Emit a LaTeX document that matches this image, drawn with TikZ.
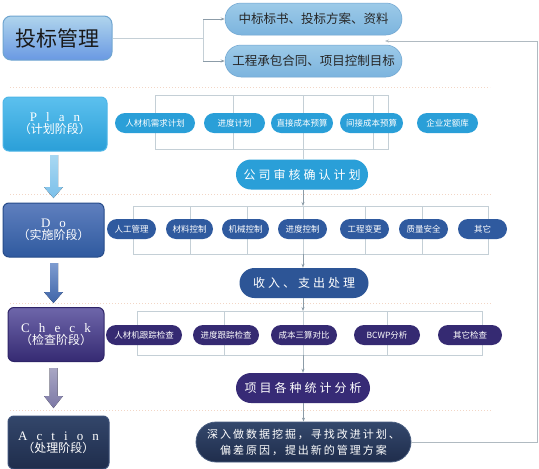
\documentclass[tikz,border=0pt]{standalone}
\usepackage{fontspec}
\setmainfont{Noto Sans CJK SC}
\newfontfamily\cjkspaced[LetterSpace=25]{Noto Sans CJK SC}
\newfontfamily\cjkspacedb[LetterSpace=18]{Noto Sans CJK SC}
\newfontfamily\latinspaced[LetterSpace=70]{Liberation Serif}
\usetikzlibrary{arrows.meta}
\definecolor{linegrey}{HTML}{C4CFD6}
\definecolor{arrgrey}{HTML}{8C9CA8}
\definecolor{sepcol}{HTML}{F2D6C6}
\definecolor{planc}{HTML}{2A9FD8}
\definecolor{doc}{HTML}{2F5A9F}
\definecolor{checkc}{HTML}{352A72}
\definecolor{actc}{HTML}{1F2D4C}
\definecolor{hdtop}{HTML}{9CCAE8}
\definecolor{hdbot}{HTML}{7CB4DE}
\definecolor{hddraw}{HTML}{6FA5D0}
\definecolor{plantop}{HTML}{5CC0EE}
\definecolor{planarrtop}{HTML}{A8D8F2}
\definecolor{planarrbot}{HTML}{7CC0EA}
\definecolor{dotop}{HTML}{5F7FBE}
\definecolor{dodraw}{HTML}{274C8A}
\definecolor{dobig}{HTML}{2D5596}
\definecolor{doarrtop}{HTML}{7E9CD0}
\definecolor{doarrbot}{HTML}{3F65A8}
\definecolor{chtop}{HTML}{6E66AA}
\definecolor{chdraw}{HTML}{2E2468}
\definecolor{chbig}{HTML}{372B76}
\definecolor{charrtop}{HTML}{A8A6C4}
\definecolor{charrbot}{HTML}{7C78A6}
\definecolor{acttop}{HTML}{33466A}
\definecolor{actdraw}{HTML}{3C5078}
\definecolor{acptop}{HTML}{34486C}
\definecolor{acpdraw}{HTML}{4A5E80}
\tikzset{
  conn/.style={draw=linegrey, line width=0.8pt},
  arr/.style={draw=arrgrey, line width=0.7pt, -{Stealth[length=4pt,width=3pt]}},
  sep/.style={draw=sepcol, line width=1pt, dotted},
  phasebox/.style={rounded corners=6pt, inner sep=0pt, align=center, text=white,
    minimum width=#1, minimum height=54pt, line width=1pt},
  pill/.style={rounded corners=10pt, inner sep=0pt, text=white, font=\fontsize{8.5}{10}\selectfont,
    minimum height=20pt, minimum width=#1},
  bigpill/.style={rounded corners=15pt, inner sep=0pt, text=white, font=\fontsize{12}{14}\cjkspaced,
    minimum height=30pt, minimum width=#1},
  toppill/.style={rounded corners=16pt, inner sep=0pt, text=black!85, font=\fontsize{12.5}{15}\selectfont,
    minimum height=32pt, minimum width=177pt, top color=hdtop, bottom color=hdbot, draw=hddraw, line width=0.5pt},
}
\begin{document}
\begin{tikzpicture}[x=1pt,y=-1pt]
\useasboundingbox (0,0) rectangle (539,469);
\fill[white] (0,0) rectangle (539,469);

% separators
\draw[sep] (10,87) -- (490,87);
\draw[sep] (10,194) -- (492,194);
\draw[sep] (10,303) -- (492,303);
\draw[sep] (10,410) -- (492,410);

% ---------- header ----------
\node[rounded corners=8pt, inner sep=0pt, minimum width=109pt, minimum height=44pt,
  top color=hdtop!80!white, bottom color=hdbot!85!blue, draw=hddraw, line width=1pt,
  font=\fontsize{21}{22}\selectfont, text=black!90] (tb) at (57.5,38) {投标管理};
\node[toppill] (t1) at (313.5,19) {中标标书、投标方案、资料};
\node[toppill] (t2) at (313.5,61) {工程承包合同、项目控制目标};
\coordinate (br) at (203,38);
\coordinate (brt) at (203,19);
\coordinate (brb) at (203,61);
\draw[conn] (tb.east) -- (br);
\draw[conn] (brt) -- (brb);
\draw[arr] (brt) -- (t1.west);
\draw[arr] (brb) -- (t2.west);

% ---------- Plan ----------
\draw[conn] (155,95) rectangle (388,149);
\draw[conn] (233,95) -- (233,149);
\draw[conn] (303,95) -- (303,149);
\draw[conn] (373,95) -- (373,149);
\node[phasebox=104pt, top color=plantop, bottom color=planc, draw=plantop!70!planc]
  (plan) at (55,124) {{\fontsize{13}{20}\latinspaced Plan}\\{\fontsize{12}{16}\selectfont（计划阶段）}};
\node[pill=80pt, fill=planc] (p1) at (155,123) {人材机需求计划};
\node[pill=61pt, fill=planc] (p2) at (234.5,123) {进度计划};
\node[pill=62pt, fill=planc] (p3) at (302,123) {直接成本预算};
\node[pill=63pt, fill=planc] (p4) at (371.5,123) {间接成本预算};
\node[pill=61pt, fill=planc] (p5) at (447.5,123) {企业定额库};
\node[bigpill=132pt, fill=planc] (pc) at (302,174.5) {公司审核确认计划};
\coordinate (pfb) at (303,149);
\draw[conn] (pfb) -- (pfb |- pc.north);
\fill[top color=planarrtop, bottom color=planarrbot] (50,155) -- (58,155) -- (58,187) -- (63,187) -- (53.5,198) -- (44,187) -- (50,187) -- cycle;

% ---------- Do ----------
\draw[conn] (133,206) rectangle (488,254);
\foreach \xx in {190,247,303,365,422} \draw[conn] (\xx,206) -- (\xx,254);
\coordinate (dft) at (303,206);
\draw[arr] (pc.south -| dft) -- (dft);
\node[phasebox=101pt, top color=dotop, bottom color=doc, draw=dodraw]
  (do) at (53.5,230) {{\fontsize{13}{20}\latinspaced Do}\\{\fontsize{12}{16}\selectfont（实施阶段）}};
\node[pill=49pt, fill=doc] (d1) at (131.5,229) {人工管理};
\node[pill=47pt, fill=doc] (d2) at (189.5,229) {材料控制};
\node[pill=47pt, fill=doc] (d3) at (245.5,229) {机械控制};
\node[pill=49pt, fill=doc] (d4) at (302.5,229) {进度控制};
\node[pill=49pt, fill=doc] (d5) at (364.5,229) {工程变更};
\node[pill=49pt, fill=doc] (d6) at (423.5,229) {质量安全};
\node[pill=49pt, fill=doc] (d7) at (482.5,229) {其它};
\node[bigpill=129pt, fill=dobig] (dc) at (304,283) {收入、支出处理};
\coordinate (dfb) at (303,254);
\draw[arr] (dfb) -- (dfb |- dc.north);
\fill[top color=doarrtop, bottom color=doarrbot] (50,263) -- (58,263) -- (58,292) -- (63,292) -- (53.5,303) -- (44,292) -- (50,292) -- cycle;

% ---------- Check ----------
\draw[conn] (137,311) rectangle (482,355);
\foreach \xx in {224,303,387} \draw[conn] (\xx,311) -- (\xx,355);
\coordinate (cft) at (303,311);
\draw[arr] (dc.south -| cft) -- (cft);
\node[phasebox=96pt, top color=chtop, bottom color=checkc, draw=chdraw]
  (check) at (56,334.5) {{\fontsize{13}{20}\latinspaced Check}\\{\fontsize{12}{16}\selectfont（检查阶段）}};
\node[pill=76pt, fill=checkc] (c1) at (144,335) {人材机跟踪检查};
\node[pill=66pt, fill=checkc] (c2) at (226,335) {进度跟踪检查};
\node[pill=66pt, fill=checkc] (c3) at (304,335) {成本三算对比};
\node[pill=66pt, fill=checkc] (c4) at (387,335) {BCWP分析};
\node[pill=64pt, fill=checkc] (c5) at (470,335) {其它检查};
\node[bigpill=134pt, fill=chbig] (cc) at (303,388) {项目各种统计分析};
\coordinate (cfb) at (303,355);
\draw[arr] (cfb) -- (cfb |- cc.north);
\fill[top color=charrtop, bottom color=charrbot] (49.5,368) -- (57.5,368) -- (57.5,396) -- (63,396) -- (53.5,408) -- (44,396) -- (49.5,396) -- cycle;

% ---------- Action ----------
\node[phasebox=101pt, minimum height=53pt, top color=acttop, bottom color=actc, draw=actdraw]
  (act) at (58.5,442.5) {{\fontsize{13}{20}\latinspaced Action}\\{\fontsize{12}{16}\selectfont（处理阶段）}};
\node[rounded corners=20pt, inner sep=0pt, minimum width=215pt, minimum height=40pt,
  top color=acptop, bottom color=actc, draw=acpdraw, line width=0.8pt, text=white, align=center,
  font=\fontsize{11}{16}\cjkspacedb] (ac) at (303.5,442) {深入做数据挖掘，寻找改进计划、\\偏差原因，提出新的管理方案};
\draw[arr] (cc.south -| ac.north) -- (ac.north);

% feedback
\coordinate (fb1) at (537,442);
\coordinate (fb2) at (537,41);
\coordinate (fb3) at (385,41);
\draw[draw=linegrey!90!black, line width=0.8pt, -{Stealth[length=4pt,width=3pt]}] (ac.east) -- (fb1) -- (fb2) -- (fb3);
\end{tikzpicture}
\end{document}
